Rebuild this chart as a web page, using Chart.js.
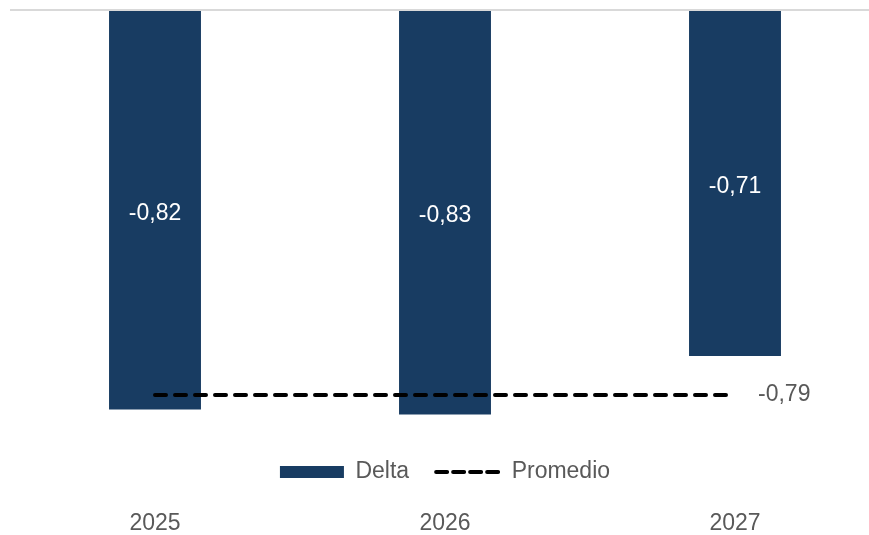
<!DOCTYPE html>
<html>
<head>
<meta charset="utf-8">
<script src="https://cdn.jsdelivr.net/npm/chart.js@4/dist/chart.umd.min.js"></script>
<style>
  html, body { margin: 0; padding: 0; background: #fff; overflow: hidden; }
  #wrap { width: 880px; height: 553px; }
</style>
</head>
<body>
<div id="wrap"><canvas id="deltaChart"></canvas></div>
<script>
// datos del grafico
const years = ['2025', '2026', '2027'];
const delta = [-0.82, -0.83, -0.71];
const promedio = [-0.79, -0.79, -0.79];

const navy = '#183c62';
const grey = '#595959';
const fontFamily = '"Liberation Sans", Arial, sans-serif';

const fmt = v => v.toFixed(2).replace('.', ',');

// etiquetas de valor dentro de las barras y al final de la linea
const valueLabels = {
    id: 'valueLabels',
    afterDatasetsDraw(chart) {
        const ctx = chart.ctx;
        ctx.save();
        ctx.font = '23px ' + fontFamily;
        ctx.textBaseline = 'middle';
        const barMeta = chart.getDatasetMeta(1);
        barMeta.data.forEach((bar, i) => {
            ctx.fillStyle = '#ffffff';
            ctx.textAlign = 'center';
            ctx.fillText(fmt(delta[i]), bar.x, (bar.y + bar.base) / 2 + 3);
        });
        const lineMeta = chart.getDatasetMeta(0);
        const last = lineMeta.data[lineMeta.data.length - 1];
        ctx.fillStyle = grey;
        ctx.textAlign = 'left';
        ctx.fillText(fmt(promedio[promedio.length - 1]), last.x + 23, last.y);
        ctx.restore();
    }
};

new Chart(document.getElementById('deltaChart'), {
    data: {
        labels: years,
        datasets: [
            {
                type: 'line',
                label: 'Promedio',
                data: promedio,
                borderColor: '#000000',
                borderWidth: 4,
                borderDash: [11, 9],
                borderCapStyle: 'round',
                pointRadius: 0,
                fill: false
            },
            {
                type: 'bar',
                label: 'Delta',
                data: delta,
                backgroundColor: navy,
                borderWidth: 0,
                categoryPercentage: 1,
                barPercentage: 0.317
            }
        ]
    },
    options: {
        responsive: true,
        maintainAspectRatio: false,
        animation: false,
        layout: { padding: { top: 10, left: 10, right: 0, bottom: 0 } },
        plugins: {
            tooltip: { enabled: false },
            legend: {
                position: 'bottom',
                fullSize: false,
                labels: {
                    usePointStyle: true,
                    pointStyleWidth: 64,
                    boxWidth: 64,
                    boxHeight: 12,
                    padding: 27,
                    color: grey,
                    font: { size: 23, family: fontFamily },
                    generateLabels: () => [
                        { text: 'Delta', fillStyle: navy, strokeStyle: navy, lineWidth: 0, pointStyle: 'rect', datasetIndex: 1, fontColor: grey },
                        { text: 'Promedio', fillStyle: 'rgba(0,0,0,0)', strokeStyle: '#000000', lineWidth: 4, lineDash: [11, 6], lineCap: 'round', pointStyle: 'line', datasetIndex: 0, fontColor: grey }
                    ]
                }
            }
        },
        scales: {
            x: {
                position: 'bottom',
                weight: 2000,
                offset: true,
                grid: { display: false, drawTicks: false },
                border: { display: false },
                ticks: { color: grey, padding: 21.6, font: { size: 23, family: fontFamily, lineHeight: 0.713 } }
            },
            y: {
                min: -0.869,
                max: 0,
                ticks: { display: false },
                border: { display: false },
                grid: {
                    drawTicks: false,
                    lineWidth: 2,
                    color: c => c.tick && c.tick.value === 0 ? '#d9d9d9' : 'rgba(0,0,0,0)'
                }
            }
        }
    },
    plugins: [valueLabels]
});
</script>
</body>
</html>
